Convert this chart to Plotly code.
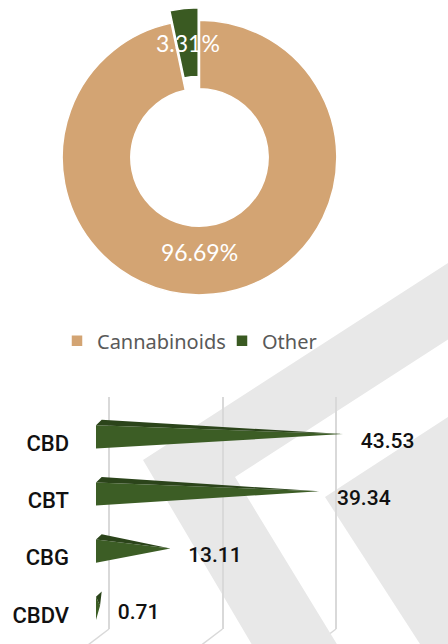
import math
import plotly.graph_objects as go

W, H = 448, 644

# ---------------- data ----------------
pie_labels = ["Cannabinoids", "Other"]
pie_values = [96.69, 3.31]
pie_colors = ["#D3A473", "#3A5A22"]
pie_pull = [0, 0.09]

bar_categories = ["CBD", "CBT", "CBG", "CBDV"]
bar_values = [43.53, 39.34, 13.11, 0.71]
bar_text = ["43.53", "39.34", "13.11", "0.71"]
grid_ticks = [0, 20, 40]


def px(x):
    return x / W


def py(y):
    return 1 - y / H


fig = go.Figure()

# ---------------- donut ----------------
pie_cx, pie_cy, pie_side = 199.5, 157.5, 299.4
hole = 0.5
pie_dom_x = [px(pie_cx - pie_side / 2), px(pie_cx + pie_side / 2)]
pie_dom_y = [py(pie_cy + pie_side / 2), py(pie_cy - pie_side / 2)]

total = sum(pie_values)
texts = [f"{v / total:.2%}" for v in pie_values]

fig.add_trace(go.Pie(
    labels=pie_labels, values=pie_values, hole=hole, sort=False,
    direction="clockwise", rotation=0, pull=pie_pull,
    marker=dict(colors=pie_colors, line=dict(color="white", width=1.5)),
    text=[texts[0], ""], textinfo="text", textposition="inside",
    insidetextorientation="horizontal",
    textfont=dict(family="Lato", size=23, color="white"),
    domain=dict(x=pie_dom_x, y=pie_dom_y),
    showlegend=True, hoverinfo="label+percent",
))

# label of the small slice (placed at its mid angle, like the original)
R = pie_side / (2 * (1 + max(pie_pull)))
mid_frac = (pie_values[0] + pie_values[1] / 2) / total
theta = 2 * math.pi * mid_frac
r_txt = R * (1 + hole) / 2 + pie_pull[1] * R
ax_ = pie_cx + r_txt * math.sin(theta)
ay_ = pie_cy - r_txt * math.cos(theta)
fig.add_annotation(x=px(ax_), y=py(ay_), xref="paper", yref="paper",
                   text=texts[1], showarrow=False, xanchor="center", yanchor="middle",
                   font=dict(family="Lato", size=23, color="white"))

# ---------------- 3D cone bars ----------------
S = 5.675            # px per value unit
DOM_L, DOM_R = 70, 440
GRID0, BAR0 = 109, 96
Y_TOP, Y_BOT = 397, 629
CAT0, CAT_STEP = 443.3, 57.2

FRONT_OFF = -6.5 / CAT_STEP
HALF = 11.6 / CAT_STEP
TIP_OFF = -2.7 / CAT_STEP
DEPTH_X = 5.7 / S
DEPTH_Y = -5.4 / CAT_STEP

fx, fy, tx, ty = [], [], [], []
for i, v in enumerate(bar_values):
    c = i + FRONT_OFF
    fx += [0, 0, v, 0, None]
    fy += [c - HALF, c + HALF, c + TIP_OFF, c - HALF, None]
    tx += [0, DEPTH_X, v, 0, None]
    ty += [c - HALF, c - HALF + DEPTH_Y, c + TIP_OFF, c - HALF, None]

fig.add_trace(go.Scatter(x=fx, y=fy, xaxis="x2", yaxis="y", mode="lines",
                         fill="toself", fillcolor="#3C5D25", line=dict(width=0),
                         showlegend=False, hoverinfo="skip"))
fig.add_trace(go.Scatter(x=tx, y=ty, xaxis="x2", yaxis="y", mode="lines",
                         fill="toself", fillcolor="#2B441A", line=dict(width=0),
                         showlegend=False, hoverinfo="skip"))

fig.add_trace(go.Scatter(x=bar_values, y=[i - 1.0 / CAT_STEP for i in range(len(bar_values))],
                         xaxis="x", yaxis="y", mode="markers+text", text=bar_text,
                         marker=dict(size=6, color="rgba(0,0,0,0)"),
                         textposition="middle right", cliponaxis=False,
                         textfont=dict(family="Roboto", size=21, color="#111111", weight=500),
                         showlegend=False, hoverinfo="skip"))

x_range = [(DOM_L - GRID0) / S, (DOM_R - GRID0) / S]
x2_range = [(DOM_L - BAR0) / S, (DOM_R - BAR0) / S]
y_range = [(Y_BOT - CAT0) / CAT_STEP, -(CAT0 - Y_TOP) / CAT_STEP]

# floor lines of the 3D back wall
for g in grid_ticks:
    fig.add_shape(type="line", xref="x", yref="paper",
                  x0=g, y0=py(Y_BOT), x1=g - 27.6 / S, y1=py(650),
                  line=dict(color="#D9D9D9", width=1.5), layer="below")

# background watermark (light grey chevrons)
def path(pts):
    return "M " + " L ".join(f"{px(a):.4f},{py(b):.4f}" for a, b in pts) + " Z"

wm1 = [(143, 460), (470, 248.8), (470, 325.4), (235, 477), (352.7, 670), (266.9, 670)]
wm2 = [(325, 497), (470, 402.8), (470, 670), (436.8, 670)]
for pts in (wm1, wm2):
    fig.add_shape(type="path", xref="paper", yref="paper", path=path(pts),
                  fillcolor="#E8E8E8", line=dict(width=0), layer="below")

fig.update_layout(
    width=W, height=H,
    margin=dict(l=0, r=0, t=0, b=0),
    paper_bgcolor="white", plot_bgcolor="rgba(0,0,0,0)",
    legend=dict(orientation="h", x=px(57), y=py(340.7), xanchor="left", yanchor="middle",
                font=dict(family="Noto Sans", size=20, color="#595959"),
                entrywidth=120, bgcolor="rgba(0,0,0,0)"),
    xaxis=dict(domain=[px(DOM_L), px(DOM_R)], range=x_range, anchor="y",
               tickmode="array", tickvals=grid_ticks, showticklabels=False,
               showgrid=True, gridcolor="#D9D9D9", gridwidth=1.5,
               zeroline=False, showline=False, fixedrange=True),
    xaxis2=dict(overlaying="x", range=x2_range, anchor="y", visible=False,
                showgrid=False, zeroline=False, fixedrange=True),
    yaxis=dict(domain=[py(Y_BOT), py(Y_TOP)], range=y_range, anchor="x",
               tickmode="array", tickvals=list(range(len(bar_categories))),
               ticktext=bar_categories, showgrid=False, zeroline=False,
               showline=False, ticks="", fixedrange=True,
               tickfont=dict(family="Roboto", size=22, color="#111111", weight=500)),
)

fig.write_html("out.html", config={"displayModeBar": False},
               post_script="document.body.style.margin='0';document.body.style.overflow='hidden';")
